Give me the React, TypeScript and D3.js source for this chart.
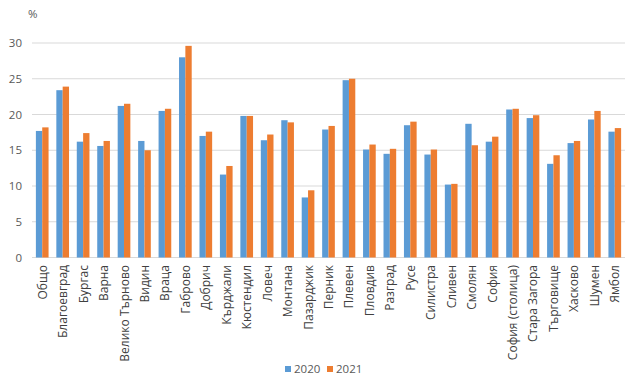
import React from "react";
import * as d3 from "d3";

const categories = ["Общо","Благоевград","Бургас","Варна","Велико Търново","Видин","Враца","Габрово","Добрич","Кърджали","Кюстендил","Ловеч","Монтана","Пазарджик","Перник","Плевен","Пловдив","Разград","Русе","Силистра","Сливен","Смолян","София","София (столица)","Стара Загора","Търговище","Хасково","Шумен","Ямбол"];
const values2020 = [17.7,23.4,16.2,15.6,21.2,16.3,20.5,28.0,17.0,11.6,19.8,16.4,19.2,8.4,17.9,24.8,15.1,14.5,18.5,14.4,10.2,18.7,16.2,20.7,19.5,13.1,16.0,19.3,17.6];
const values2021 = [18.2,23.9,17.4,16.3,21.5,15.0,20.8,29.6,17.6,12.8,19.8,17.2,18.9,9.4,18.4,25.0,15.8,15.2,19.0,15.1,10.3,15.7,16.9,20.8,19.9,14.3,16.3,20.5,18.1];
const seriesNames = ["2020","2021"];
const colors = ["#5b9bd5","#ed7d31"];
const yTicks = [0,5,10,15,20,25,30];

export default function App() {
  const W = 640, H = 388;
  const left = 32, right = 625, top = 43, bottom = 257.5;
  const x = d3.scaleBand<string>().domain(categories).range([left, right]).paddingInner(0).paddingOuter(0);
  const y = d3.scaleLinear().domain([0, 30]).range([bottom, top]);
  const bw = x.bandwidth();
  const barW = bw * 0.31;
  const font = "'Open Sans', 'Liberation Sans', sans-serif";
  const data = [values2020, values2021];
  return (
    <svg width={W} height={H} style={{ position: "absolute", left: 0, top: 0, background: "#fff" }}>
      <text x={28} y={18} fontFamily={font} fontSize={11.5} fill="#595959">%</text>
      {yTicks.map(t => (
        <g key={t}>
          <line x1={left} x2={right} y1={y(t)} y2={y(t)} stroke="#d9d9d9" strokeWidth={1} />
          <text x={22} y={y(t) + 4} textAnchor="end" fontFamily={font} fontSize={11.5} fill="#595959">{t}</text>
        </g>
      ))}
      {categories.map((c, i) => {
        const cx = (x(c) as number) + bw / 2;
        return (
          <g key={c}>
            {data.map((vals, s) => (
              <rect key={s} x={cx - barW + s * barW} y={y(vals[i])} width={barW} height={bottom - y(vals[i])} fill={colors[s]} />
            ))}
            <text transform={`translate(${cx + 4.5},265) rotate(-90)`} textAnchor="end" fontFamily={font} fontSize={12} fill="#404040">{c}</text>
          </g>
        );
      })}
      {seriesNames.map((n, s) => (
        <g key={n} transform={`translate(${285 + s * 42},0)`}>
          <rect x={0} y={366} width={6} height={6} fill={colors[s]} />
          <text x={9} y={373} fontFamily={font} fontSize={11.5} fill="#595959">{n}</text>
        </g>
      ))}
    </svg>
  );
}
